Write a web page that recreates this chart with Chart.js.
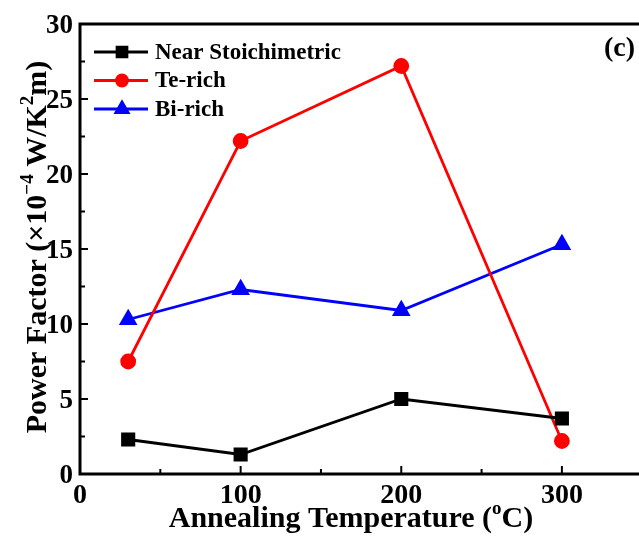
<!DOCTYPE html>
<html>
<head>
<meta charset="utf-8">
<script src="https://cdn.jsdelivr.net/npm/chart.js@4.4.1/dist/chart.umd.min.js"></script>
<style>
  html, body { margin: 0; padding: 0; background: #fff; }
  #wrap { width: 639px; height: 538px; }
</style>
</head>
<body>
<div id="wrap"><canvas id="myChart" width="639" height="538"></canvas></div>
<script>
// Datos
var temperatures = [30, 100, 200, 300];
var nearStoich = [2.3, 1.3, 5.0, 3.7];
var teRich = [7.5, 22.2, 27.2, 2.2];
var biRich = [10.3, 12.3, 10.9, 15.3];
var xTickValues = [0, 100, 200, 300];
var yTickValues = [0, 5, 10, 15, 20, 25, 30];

var FONT = "'Liberation Serif', 'Times New Roman', serif";

function toPoints(values) {
  return temperatures.map(function (t, i) { return { x: t, y: values[i] }; });
}

// dibuja texto con superindices: segmentos [texto, esSuper]
function richText(ctx, parts, x, y, size) {
  var bigFont = 'bold ' + size + 'px ' + FONT;
  var smallFont = 'bold ' + Math.round(size * 0.62) + 'px ' + FONT;
  var total = 0;
  parts.forEach(function (p) {
    ctx.font = p[1] ? smallFont : bigFont;
    total += ctx.measureText(p[0]).width;
  });
  var cx = x - total / 2;
  ctx.textAlign = 'left';
  ctx.textBaseline = 'alphabetic';
  parts.forEach(function (p) {
    ctx.font = p[1] ? smallFont : bigFont;
    ctx.fillText(p[0], cx, p[1] ? y - size * 0.42 : y);
    cx += ctx.measureText(p[0]).width;
  });
}

var decoPlugin = {
  id: 'deco',
  afterDraw: function (chart) {
    var ctx = chart.ctx;
    var a = chart.chartArea;
    var xs = chart.scales.x, ys = chart.scales.y;
    ctx.save();
    ctx.strokeStyle = '#000';
    ctx.fillStyle = '#000';
    ctx.lineWidth = 3;
    // marco (izquierda, arriba, abajo)
    ctx.beginPath();
    ctx.moveTo(chart.width, a.top);
    ctx.lineTo(a.left, a.top);
    ctx.lineTo(a.left, a.bottom);
    ctx.lineTo(chart.width, a.bottom);
    ctx.stroke();

    // marcas hacia adentro
    ctx.lineWidth = 2;
    for (var v = 0; v <= 300; v += 50) {
      var px = xs.getPixelForValue(v);
      var len = v % 100 === 0 ? 8 : 5;
      ctx.beginPath();
      ctx.moveTo(px, a.bottom);
      ctx.lineTo(px, a.bottom - len);
      ctx.stroke();
    }
    for (var w = 0; w <= 30; w += 2.5) {
      var py = ys.getPixelForValue(w);
      var l2 = w % 5 === 0 ? 8 : 5;
      ctx.beginPath();
      ctx.moveTo(a.left, py);
      ctx.lineTo(a.left + l2, py);
      ctx.stroke();
    }

    // leyenda
    chart.data.datasets.forEach(function (ds, i) {
      var ly = a.top + 28 + i * 28.5;
      ctx.strokeStyle = ds.borderColor;
      ctx.lineWidth = 2.8;
      ctx.beginPath();
      ctx.moveTo(a.left + 14, ly);
      ctx.lineTo(a.left + 68, ly);
      ctx.stroke();
      ctx.fillStyle = ds.pointBackgroundColor;
      ctx.strokeStyle = ds.borderColor;
      Chart.helpers.drawPoint(ctx, {
        pointStyle: ds.pointStyle, radius: ds.pointRadius - 1, rotation: 0, borderWidth: 1
      }, a.left + 42, ly);
      ctx.fillStyle = '#000';
      ctx.font = 'bold 23px ' + FONT;
      ctx.textAlign = 'left';
      ctx.textBaseline = 'middle';
      ctx.fillText(ds.label, a.left + 75, ly + 1);
    });

    // etiqueta del panel
    ctx.font = 'bold 28px ' + FONT;
    ctx.textAlign = 'right';
    ctx.textBaseline = 'middle';
    ctx.fillText('(c)', chart.width - 4, a.top + 25);

    // titulos de ejes
    ctx.fillStyle = '#000';
    richText(ctx, [['Annealing Temperature (', false], ['o', true], ['C)', false]],
      351, chart.height - 11, 30);
    ctx.save();
    ctx.translate(36, 247);
    ctx.rotate(-Math.PI / 2);
    richText(ctx, [['Power Factor (\u00d710', false], ['\u22124', true], [' W/K', false], ['2', true], ['m)', false]],
      0, 10, 30);
    ctx.restore();
    ctx.restore();
  }
};

var ctx = document.getElementById('myChart').getContext('2d');
var myChart = new Chart(ctx, {
  type: 'line',
  data: {
    datasets: [{
      label: 'Near Stoichimetric',
      data: toPoints(nearStoich),
      borderColor: '#000000',
      backgroundColor: '#000000',
      pointBackgroundColor: '#000000',
      pointStyle: 'rect',
      pointRadius: 8,
      borderWidth: 2.8
    }, {
      label: 'Te-rich',
      data: toPoints(teRich),
      borderColor: '#ff0000',
      backgroundColor: '#ff0000',
      pointBackgroundColor: '#ff0000',
      pointStyle: 'circle',
      pointRadius: 6.5,
      borderWidth: 2.8
    }, {
      label: 'Bi-rich',
      data: toPoints(biRich),
      borderColor: '#0000ff',
      backgroundColor: '#0000ff',
      pointBackgroundColor: '#0000ff',
      pointStyle: 'triangle',
      pointRadius: 8,
      borderWidth: 2.8
    }]
  },
  options: {
    responsive: false,
    animation: false,
    layout: { autoPadding: false, padding: { top: 24, right: 0, left: 0, bottom: 0 } },
    plugins: { legend: { display: false }, tooltip: { enabled: false } },
    elements: { line: { tension: 0 }, point: { borderWidth: 1 } },
    scales: {
      x: {
        type: 'linear', min: 0, max: 348,
        grid: { display: false, drawTicks: false },
        border: { display: false },
        afterBuildTicks: function (s) { s.ticks = xTickValues.map(function (v) { return { value: v }; }); },
        afterFit: function (s) { s.height = 64; s.paddingLeft = 0; s.paddingRight = 0; },
        ticks: { color: '#000', padding: 5, maxRotation: 0, font: { family: FONT, size: 28, weight: 'bold' } }
      },
      y: {
        min: 0, max: 30,
        grid: { display: false, drawTicks: false },
        border: { display: false },
        afterBuildTicks: function (s) { s.ticks = yTickValues.map(function (v) { return { value: v }; }); },
        afterFit: function (s) { s.width = 80; },
        ticks: { color: '#000', padding: 7, labelOffset: 2, font: { family: FONT, size: 27, weight: 'bold' } }
      }
    }
  },
  plugins: [decoPlugin]
});
</script>
</body>
</html>
